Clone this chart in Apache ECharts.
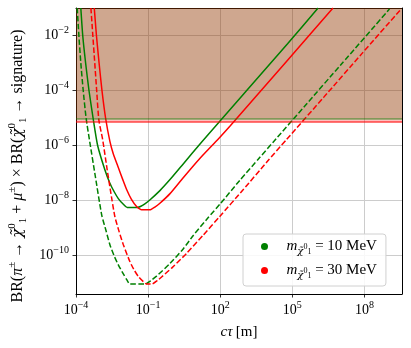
<!DOCTYPE html>
<html><head><meta charset="utf-8">
<script src="https://cdn.jsdelivr.net/npm/echarts@6/dist/echarts.min.js"></script>
<style>html,body{margin:0;padding:0;background:#fff}#c{width:411px;height:348px}</style>
</head><body><div id="c"></div>
<script>
// axis ranges (log10 units)
const logCtauMin = -4, logCtauMax = 9.56;
const logBRMin = -11.4, logBRMax = -1.0;
// shaded exclusion thresholds (log10 BR)
const greenLimit = -5.04;
const redLimit = -5.15;
// m = 10 MeV, solid
const greenSolidLogCtau = [-3.80,-3.72,-3.60,-3.46,-3.29,-3.10,-2.80,-2.59,-2.40,-2.24,-2.05,-1.87,-1.45,-1.30,-1.15,-0.93,-0.51,-0.09,0.46,1.22,2.40,3.60,4.80,6.07];
const greenSolidLogBR   = [-1.0,-2.0,-3.0,-4.0,-5.0,-6.0,-6.88,-7.37,-7.70,-7.93,-8.12,-8.25,-8.25,-8.21,-8.13,-7.98,-7.64,-7.24,-6.67,-5.88,-4.70,-3.50,-2.30,-1.0];
// m = 30 MeV, solid
const redSolidLogCtau = [-3.24,-3.15,-3.04,-2.92,-2.77,-2.59,-2.45,-2.24,-2.05,-1.89,-1.70,-1.48,-1.30,-1.20,-0.93,-0.72,-0.51,-0.09,0.46,1.15,1.91,2.40,3.60,4.80,6.69];
const redSolidLogBR   = [-1.0,-2.0,-3.0,-4.0,-5.0,-5.85,-6.30,-6.80,-7.25,-7.61,-7.95,-8.22,-8.33,-8.34,-8.34,-8.24,-8.10,-7.75,-7.17,-6.47,-5.77,-5.30,-4.10,-2.90,-1.0];
// m = 10 MeV, dashed
const greenDashLogCtau = [-3.95,-3.88,-3.80,-3.70,-3.58,-3.42,-3.20,-2.93,-2.75,-2.59,-2.42,-2.24,-2.05,-1.89,-1.76,-1.13,-0.90,-0.65,-0.09,0.45,0.87,1.50,1.98,2.81,3.64,4.20,5.50,7.00,9.04];
const greenDashLogBR   = [-1.0,-2.0,-3.0,-4.0,-5.0,-5.91,-7.10,-8.53,-9.10,-9.61,-10.0,-10.34,-10.64,-10.88,-11.04,-11.04,-10.92,-10.75,-10.29,-9.77,-9.28,-8.62,-8.14,-7.27,-6.44,-5.88,-4.58,-3.08,-1.04];
// m = 30 MeV, dashed
const redDashLogCtau = [-3.38,-3.30,-3.22,-3.14,-3.05,-2.89,-2.70,-2.50,-2.38,-2.20,-2.03,-1.76,-1.60,-1.41,-1.20,-1.06,-0.85,-0.60,-0.44,0.0,0.60,1.29,1.98,2.95,3.92,4.75,6.30,7.90,9.53];
const redDashLogBR   = [-1.0,-2.0,-3.0,-4.0,-5.07,-5.79,-6.90,-8.0,-8.6,-9.15,-9.61,-10.22,-10.50,-10.76,-10.95,-11.04,-11.04,-10.90,-10.78,-10.44,-9.92,-9.26,-8.58,-7.61,-6.62,-5.79,-4.25,-2.65,-1.03];

const legendNames = {m10: '10 MeV', m30: '30 MeV'};
const SERIF = "'Liberation Serif','DejaVu Serif',serif";
const CHIFONT = "'DejaVu Serif',serif";
const CHI = '\u03C7\u0303';

function pairs(xs, ys){ return xs.map((x,i)=>[x, ys[i]]); }
function expLabel(v){
  const s = (v < 0 ? '\u2212' : '') + Math.abs(v);
  return '{b|10}{s|' + s + '}';
}
const tickRich = {
  b: {fontFamily: SERIF, fontSize: 14, color: '#000', lineHeight: 20},
  s: {fontFamily: SERIF, fontSize: 10, color: '#000', verticalAlign: 'top'}
};

const chart = echarts.init(document.getElementById('c'), null, {renderer: 'canvas'});
function curve(name, xs, ys, color, dashed){
  return {
    type: 'line', name: name, data: pairs(xs, ys), symbol: 'none', z: 3,
    smooth: 0.2, clip: true,
    lineStyle: {color: color, width: 1.5, type: dashed ? [5.5, 2.4] : 'solid'},
    itemStyle: {color: color}
  };
}
chart.setOption({
  animation: false,
  grid: {left: 76, right: 9, top: 8, bottom: 54, containLabel: false},
  xAxis: [{
    type: 'value', min: logCtauMin, max: logCtauMax, interval: 3,
    axisLine: {show: true, onZero: false, lineStyle: {color: '#000', width: 1}},
    axisTick: {show: true, length: 3.5, lineStyle: {color: '#000', width: 0.8}},
    splitLine: {show: true, lineStyle: {color: '#cccccc', width: 1}},
    axisLabel: {margin: 6, showMaxLabel: false, rich: tickRich,
      formatter: v => { const r = Math.round(v); return Math.abs(v - r) < 1e-6 && ((r + 4) % 3 === 0) ? expLabel(r) : ''; }},
    name: '{i|c\u03C4} {r|[m]}', nameLocation: 'middle', nameGap: 31,
    nameTextStyle: {rich: {i: {fontFamily: SERIF, fontStyle: 'italic', fontSize: 15, color: '#000'}, r: {fontFamily: SERIF, fontSize: 15, color: '#000'}}}
  }, {
    type: 'value', position: 'top', min: logCtauMin, max: logCtauMax,
    axisLine: {show: true, onZero: false, lineStyle: {color: '#000', width: 1}},
    axisTick: {show: false}, axisLabel: {show: false}, splitLine: {show: false}
  }],
  yAxis: [{
    type: 'value', min: logBRMin, max: logBRMax, splitNumber: 5,
    axisLine: {show: true, onZero: false, lineStyle: {color: '#000', width: 1}},
    axisTick: {show: true, length: 3.5, lineStyle: {color: '#000', width: 0.8}},
    splitLine: {show: true, lineStyle: {color: '#cccccc', width: 1}},
    axisLabel: {margin: 7, showMinLabel: false, showMaxLabel: false, rich: tickRich,
      formatter: v => { const r = Math.round(v); return Math.abs(v - r) < 1e-6 && r % 2 === 0 ? expLabel(r) : ''; }}
  }, {
    type: 'value', position: 'right', min: logBRMin, max: logBRMax,
    axisLine: {show: true, onZero: false, lineStyle: {color: '#000', width: 1}},
    axisTick: {show: false}, axisLabel: {show: false}, splitLine: {show: false}
  }],
  legend: {
    data: ['m10', 'm30'], orient: 'vertical', left: 243, bottom: 62,
    icon: 'circle', itemWidth: 34, itemHeight: 7, itemGap: 7,
    padding: [5, 9, 6, 18],
    backgroundColor: 'rgba(255,255,255,0.85)', borderColor: '#d0d0d0', borderWidth: 1, borderRadius: 3,
    formatter: n => '{i|m}{sb|' + CHI + '}{ss|0}{sbb|1}{r| = ' + legendNames[n] + '}',
    textStyle: {rich: {
      i: {fontFamily: SERIF, fontStyle: 'italic', fontSize: 15, color: '#000', lineHeight: 19},
      sb: {fontFamily: CHIFONT, fontStyle: 'italic', fontSize: 10, color: '#000', verticalAlign: 'bottom'},
      ss: {fontFamily: SERIF, fontSize: 8, color: '#000', verticalAlign: 'middle'},
      sbb: {fontFamily: SERIF, fontSize: 8, color: '#000', verticalAlign: 'bottom'},
      r: {fontFamily: SERIF, fontSize: 15, color: '#000', lineHeight: 19}
    }}
  },
  graphic: [{
    type: 'text', x: 18, y: 166, rotation: Math.PI / 2, z: 10,
    style: {
      text: '{r|BR(}{i|\u03C0}{s|\u00B1}{r| \u2192 }{c|' + CHI + '}{s|0}{u|1}{r| + }{i|\u03BC}{s|\u00B1}{r|) \u00D7 BR(}{c|' + CHI + '}{s|0}{u|1}{r| \u2192 signature)}',
      align: 'center', verticalAlign: 'middle',
      rich: {
        r: {fontFamily: SERIF, fontSize: 16, fill: '#000', lineHeight: 22},
        i: {fontFamily: SERIF, fontStyle: 'italic', fontSize: 16, fill: '#000', lineHeight: 22},
        c: {fontFamily: CHIFONT, fontStyle: 'italic', fontSize: 15, fill: '#000', lineHeight: 22},
        s: {fontFamily: SERIF, fontSize: 11, fill: '#000', verticalAlign: 'top'},
        u: {fontFamily: SERIF, fontSize: 11, fill: '#000', verticalAlign: 'bottom'}
      }
    }
  }],
  series: [
    {type: 'line', name: 'band', data: [], z: 1, silent: true,
     markArea: {silent: true, itemStyle: {color: 'rgba(0,128,0,0.25)'}, data: [[{yAxis: greenLimit}, {yAxis: logBRMax}]]},
     markLine: {silent: true, symbol: 'none', label: {show: false}, lineStyle: {color: 'rgba(0,128,0,0.5)', width: 1.5, type: 'solid'}, data: [{yAxis: greenLimit}]}},
    {type: 'line', name: 'band2', data: [], z: 1, silent: true,
     markArea: {silent: true, itemStyle: {color: 'rgba(255,0,0,0.25)'}, data: [[{yAxis: redLimit}, {yAxis: logBRMax}]]},
     markLine: {silent: true, symbol: 'none', label: {show: false}, lineStyle: {color: 'rgba(255,0,0,0.5)', width: 2, type: 'solid'}, data: [{yAxis: redLimit}]}},
    curve('m10', greenSolidLogCtau, greenSolidLogBR, '#008000', false),
    curve('m30', redSolidLogCtau, redSolidLogBR, '#ff0000', false),
    curve('m10', greenDashLogCtau, greenDashLogBR, '#008000', true),
    curve('m30', redDashLogCtau, redDashLogBR, '#ff0000', true)
  ]
});
</script></body></html>
